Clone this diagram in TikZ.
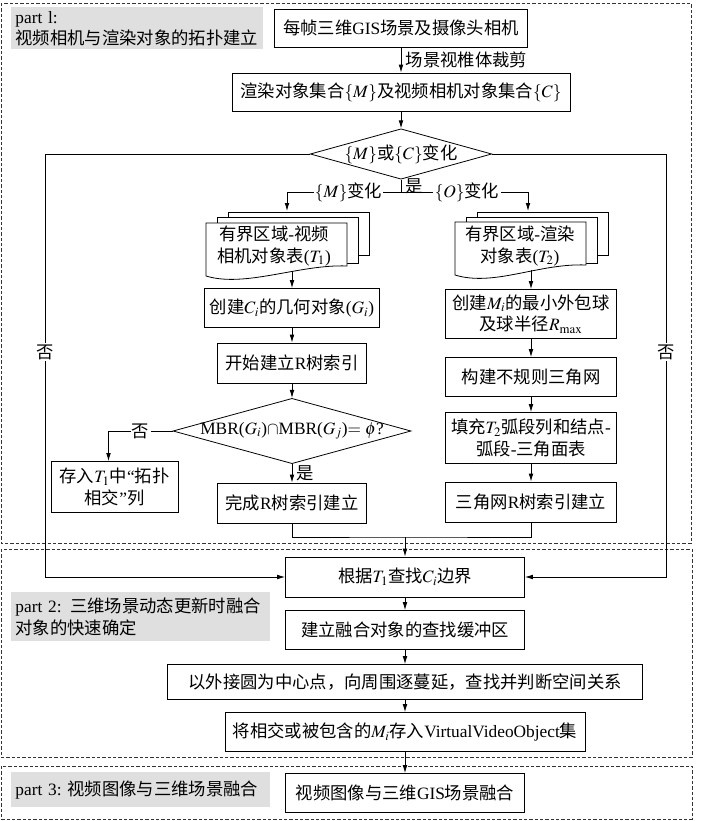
\documentclass[tikz,border=0pt]{standalone}
\usepackage{mathptmx}
\usepackage{fontspec}
\setmainfont{Liberation Serif}
\newfontfamily\cjkfont{Noto Sans CJK SC}
\usetikzlibrary{shapes.geometric,arrows.meta}

% switch to the CJK font for every run of Chinese characters
\newcount\cjkn
\cjkn="3000
\loop
  \XeTeXcharclass\cjkn=8
  \advance\cjkn by 1
\ifnum\cjkn<"A000 \repeat
\cjkn="FF00
\loop
  \XeTeXcharclass\cjkn=8
  \advance\cjkn by 1
\ifnum\cjkn<"FFF0 \repeat
\XeTeXinterchartoks 0 8 = {\begingroup\cjkfont}
\XeTeXinterchartoks 4095 8 = {\begingroup\cjkfont}
\XeTeXinterchartoks 8 0 = {\endgroup}
\XeTeXinterchartoks 8 4095 = {\endgroup}
\XeTeXinterchartokenstate=1

\tikzset{
  box/.style={draw, fill=white, align=center, inner sep=2pt},
  dec/.style={draw, diamond, fill=white, aspect=3.6, inner sep=0pt},
  part/.style={fill=gray!25, align=left, anchor=north west, inner xsep=3pt, inner ysep=1pt},
  frame/.style={draw=black!80, dash pattern=on 2.5pt off 1.5pt},
  arr/.style={-{Latex[length=6pt,width=3.5pt]}},
  lbl/.style={fill=white, inner sep=1pt}
}

\begin{document}
\begin{tikzpicture}[x=0.75pt, y=-0.75pt, line width=0.6pt, font=\fontsize{13pt}{16pt}\selectfont]
\useasboundingbox (0,0) rectangle (700,821);

\draw[frame] (1,3) rectangle (691,543);
\draw[frame] (1,549) rectangle (692,757);
\draw[frame] (1,766) rectangle (692,819);

\node[part, text width=183pt, minimum height=31.5pt] (lab1) at (11,7) {part l:\\视频相机与渲染对象的拓扑建立};
\node[part, text width=188pt, minimum height=36.75pt] (lab2) at (11,592) {part 2: 三维场景动态更新时融合\\对象的快速确定};
\node[part, text width=188pt, minimum height=26.25pt] (lab3) at (11,772) {\mbox{part 3:\ 视频图像与三维场景融合}};

\node[box, minimum width=190pt, minimum height=28.5pt] (cam) at (401,28) {每帧三维GIS场景及摄像头相机};
\node[box, minimum width=253.5pt, minimum height=28.5pt] (sets) at (401,92) {渲染对象集合$\{M\}$及视频相机对象集合$\{C\}$};
\node[dec, minimum width=133.5pt, minimum height=36.75pt] (chg) at (401,154) {$\{M\}$或$\{C\}$变化};

\draw[arr] (cam) -- (sets) node[midway, right]{场景视椎体裁剪};
\draw[arr] (sets) -- (chg);

\coordinate (fork) at (401,192);
\coordinate (t1in) at (287,211);
\coordinate (t2in) at (528,211);
\draw (chg.south) -- (fork) node[midway, right]{是};
\draw[arr] (fork) -| (t1in) node[pos=0.23, lbl]{$\{M\}$变化};
\draw[arr] (fork) -| (t2in) node[pos=0.26, lbl]{$\{O\}$变化};

\draw[fill=white] (228,212) rectangle (369,255);
\draw[fill=white] (217,217) rectangle (358,263);
\draw[fill=white] (206,223) -- (347,223) -- (347,266) .. controls (300,264) and (245,288) .. (206,276) -- cycle;
\node[align=center] (tab1) at (274,246) {有界区域-视频\\相机对象表($T_1$)};
\coordinate (t1out) at (292,271);

\draw[fill=white] (477,212) rectangle (608,255);
\draw[fill=white] (466,217) rectangle (597,263);
\draw[fill=white] (455,222) -- (586,222) -- (586,265) .. controls (539,263) and (494,287) .. (455,275) -- cycle;
\node[align=center] (tab2) at (520,246) {有界区域-渲染\\对象表($T_2$)};
\coordinate (t2out) at (531,270);

\node[box, minimum width=131.25pt, minimum height=29.25pt] (crt) at (292,308) {创建$C_i$的几何对象($G_i$)};
\node[box, minimum width=111.75pt, minimum height=30pt] (rtree) at (292,363) {开始建立R树索引};
\node[dec, minimum width=178.5pt, minimum height=48.75pt, inner xsep=-4pt] (mbr) at (292,431) {MBR($G_i$)$\cap$MBR($G_j$)$=\phi$?};
\node[box, minimum width=111.75pt, minimum height=30pt] (fin) at (292,503) {完成R树索引建立};
\node[box, minimum width=95.25pt, minimum height=38.25pt] (keep) at (114.5,487) {存入$T_1$中“拓扑\\相交”列};

\node[box, minimum width=128.25pt, minimum height=36.75pt] (sph) at (531,314) {创建$M_i$的最小外包球\\及球半径$R_{\max}$};
\node[box, minimum width=128.25pt, minimum height=29.25pt] (tin) at (531,377) {构建不规则三角网};
\node[box, minimum width=128.25pt, minimum height=38.25pt] (fill) at (531,438) {填充$T_2$弧段列和结点-\\弧段-三角面表};
\node[box, minimum width=128.25pt, minimum height=30pt] (rtr) at (531,502) {三角网R树索引建立};

\draw[arr] (t1out) -- (crt);
\draw[arr] (crt) -- (rtree);
\draw[arr] (rtree) -- (mbr);
\draw[arr] (mbr) -- (fin) node[midway, right]{是};
\draw[arr] (mbr.west) -| ([xshift=-4.5pt]keep.north) node[pos=0.25, lbl]{否};

\draw[arr] (t2out) -- (sph);
\draw[arr] (sph) -- (tin);
\draw[arr] (tin) -- (fill);
\draw[arr] (fill) -- (rtr);

\node[box, minimum width=179.25pt, minimum height=30pt] (look) at (405,577) {根据$T_1$查找$C_i$边界};
\node[box, minimum width=179.25pt, minimum height=29.25pt] (buf) at (405,630) {建立融合对象的查找缓冲区};
\node[box, minimum width=356pt, minimum height=26.25pt] (spread) at (405,682) {以外接圆为中心点，向周围逐蔓延，查找并判断空间关系};
\node[box, minimum width=270pt, minimum height=29.25pt] (store) at (405,732) {将相交或被包含的$M_i$存入VirtualVideoObject集};
\node[box, minimum width=179.25pt, minimum height=29.25pt] (fuse) at (405,793) {视频图像与三维GIS场景融合};

\coordinate (mrg) at (405,537);
\draw (fin.south) |- (mrg) -| (rtr.south);
\draw[arr] (mrg) -- (look);

\coordinate (lcor) at (45,154);
\coordinate (rcor) at (666,154);
\draw[arr] (chg.west) -- (lcor) |- (look.west) node[pos=0.234, lbl]{否};
\draw[arr] (chg.east) -- (rcor) |- (look.east) node[pos=0.234, lbl]{否};

\draw[arr] (look) -- (buf);
\draw[arr] (buf) -- (spread);
\draw[arr] (spread) -- (store);
\draw[arr] (store) -- (fuse);
\end{tikzpicture}
\end{document}
